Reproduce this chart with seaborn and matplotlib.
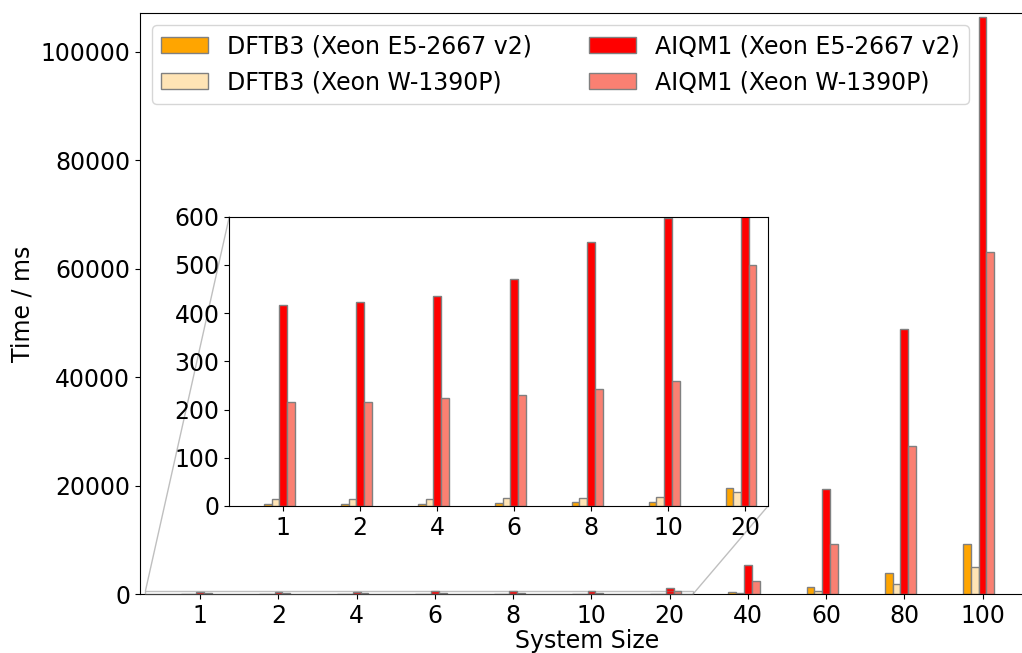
import numpy as np
import pandas as pd
import matplotlib
matplotlib.use('Agg')
import matplotlib.pyplot as plt
from matplotlib.patches import ConnectionPatch
import seaborn as sns

# Données (temps en ms)
sizes = ['1', '2', '4', '6', '8', '10', '20', '40', '60', '80', '100']
dftb3_e5 = [3.5, 3.5, 5, 5.5, 7.6, 9, 38, 300, 1230, 3850, 9300]
dftb3_w = [14, 14.5, 15, 16, 16, 18, 28, 150, 550, 1835, 4900]
aiqm1_e5 = [417, 424, 436, 471, 548, 597, 1100, 5270, 19320, 48800, 106300]
aiqm1_w = [216, 216, 223, 231, 243, 260, 499, 2330, 9300, 27230, 63000]

methods = ['DFTB3 (Xeon E5-2667 v2)', 'DFTB3 (Xeon W-1390P)',
           'AIQM1 (Xeon E5-2667 v2)', 'AIQM1 (Xeon W-1390P)']
colors = ['orange', 'moccasin', 'red', 'salmon']

frames = []
for name, vals in zip(methods, [dftb3_e5, dftb3_w, aiqm1_e5, aiqm1_w]):
    frames.append(pd.DataFrame({'size': sizes, 'time': vals, 'method': name}))
df = pd.concat(frames, ignore_index=True)

plt.rcParams['font.family'] = ['DejaVu Sans']
fs = 17

fig = plt.figure(figsize=(10.22, 6.53), dpi=100)
ax = fig.add_axes([140 / 1022, 59 / 653, 895 / 1022, 581 / 653])

bar_kw = dict(x='size', y='time', hue='method', hue_order=methods,
              palette=colors, width=0.4, saturation=1, errorbar=None,
              edgecolor='gray', linewidth=1)

sns.barplot(data=df, order=sizes, ax=ax, **bar_kw)
# les ticks sont centrés sur la 3e barre (AIQM1 E5)
ax.set_xticks(np.arange(len(sizes)) + 0.05)
ax.set_xticklabels(sizes)
ax.set_xlim(-0.72, 10.72)
ax.set_ylim(0, 107100)
ax.set_xlabel('System Size', fontsize=fs, labelpad=1)
ax.set_ylabel('Time / ms', fontsize=fs, labelpad=4)
ax.tick_params(labelsize=fs)
ax.legend(ncol=2, loc='upper left', fontsize=fs, columnspacing=2.4)

# Encart zoomé sur les petites tailles
small = sizes[:7]
x0, x1, y0, y1 = -0.65, 6.35, 0, 600
axins = ax.inset_axes([0.0998, 0.1515, 0.6019, 0.498])
sns.barplot(data=df[df['size'].isin(small)], order=small, ax=axins, **bar_kw)
axins.legend_.remove()
axins.set_xticks(np.arange(len(small)) + 0.05)
axins.set_xticklabels(small)
axins.set_xlim(x0, x1)
axins.set_ylim(y0, y1)
axins.set_xlabel('')
axins.set_ylabel('')
axins.tick_params(labelsize=fs)

# rectangle + lignes de liaison
ax.indicate_inset([x0, y0, x1 - x0, y1 - y0], edgecolor='gray', alpha=0.5)
for pt in [(x0, y1), (x1, y0)]:
    con = ConnectionPatch(xyA=pt, coordsA=axins.transData,
                          xyB=pt, coordsB=ax.transData,
                          color='gray', alpha=0.5, lw=1)
    ax.add_artist(con)

plt.savefig('out.png', dpi=100)
